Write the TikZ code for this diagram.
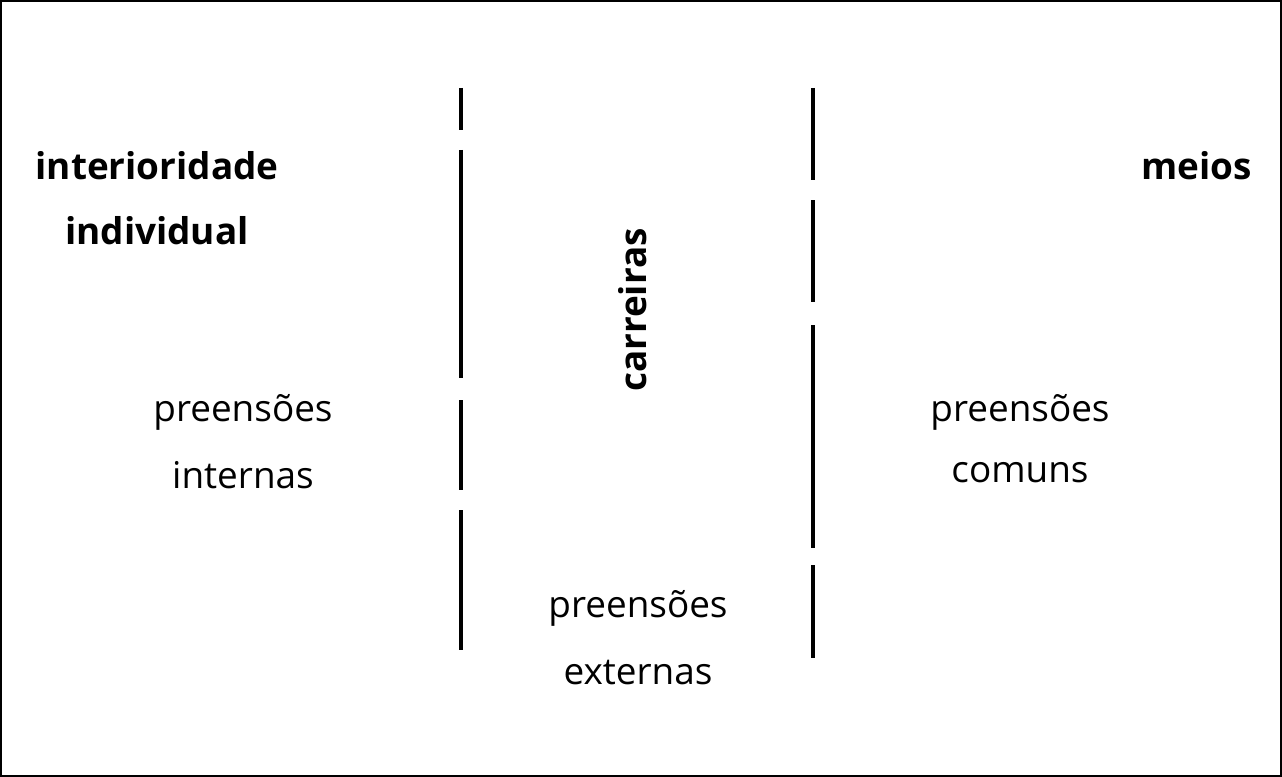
\documentclass[tikz,border=0pt]{standalone}
\usepackage{fontspec}
\setmainfont{Open Sans}
\begin{document}
\begin{tikzpicture}[x=0.02cm,y=-0.02cm,
  bar/.style={line width=4pt*0.02/0.0353},
  lbl/.style={font=\fontsize{21}{25}\selectfont,inner sep=0pt},
  hd/.style={font=\fontsize{21}{25}\selectfont\bfseries,inner sep=0pt}]
  % frame
  \useasboundingbox (0,0) rectangle (1282,777);
  \draw[line width=1.2pt] (1,1) rectangle (1281,776);
  % left dividers
  \foreach \a/\b in {88/130,150/378,400/490,510/650}
    \draw[bar,line width=2.3pt] (461,\a) -- (461,\b);
  % right dividers
  \foreach \a/\b in {88/180,200/302,325/548,565/658}
    \draw[bar,line width=2.3pt] (813,\a) -- (813,\b);
  % headings
  \node[hd] (inter) at (157,166) {interioridade};
  \node[hd] (indiv) at (157,231) {individual};
  \node[hd,anchor=east] (meios) at (1252,166) {meios};
  \node[hd,rotate=90] (carr) at (633,310) {carreiras};
  % labels
  \node[lbl] (pi1) at (243,412) {preensões};
  \node[lbl] (pi2) at (243,475) {internas};
  \node[lbl] (pc1) at (1020,412) {preensões};
  \node[lbl] (pc2) at (1020,473) {comuns};
  \node[lbl] (pe1) at (638,608) {preensões};
  \node[lbl] (pe2) at (638,673) {externas};
\end{tikzpicture}
\end{document}
